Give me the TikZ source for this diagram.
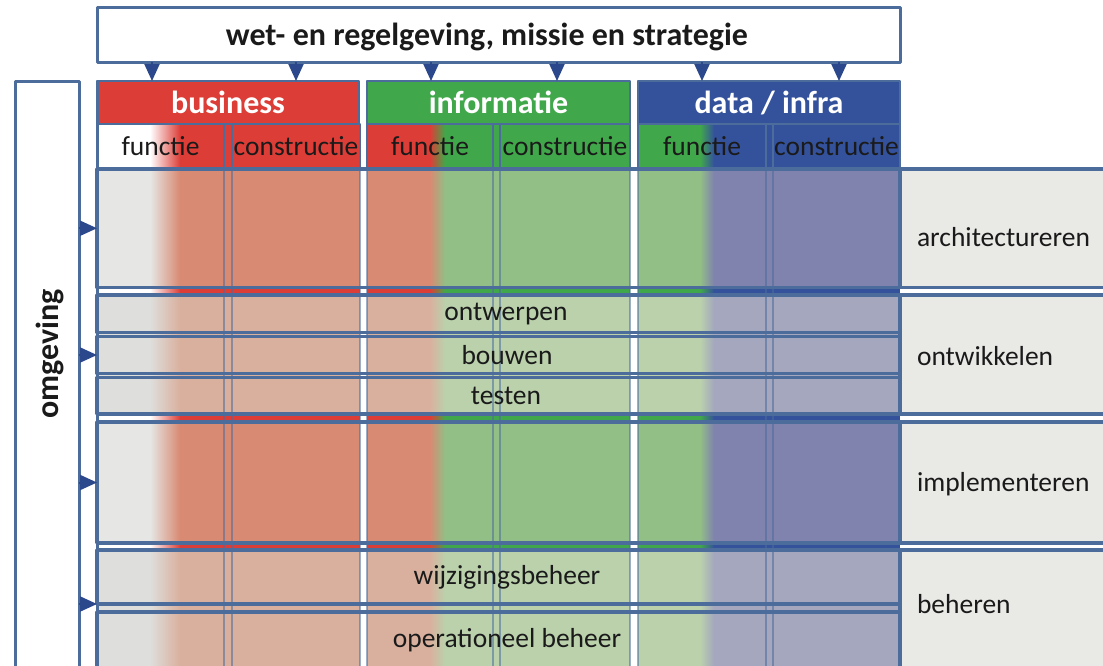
\documentclass[tikz,border=0pt]{standalone}
\usepackage{fontspec}
\setmainfont{Carlito}
\usetikzlibrary{arrows.meta,fit}
\definecolor{lijn}{HTML}{4C6C9C}
\definecolor{pijlblauw}{HTML}{2C488C}
\definecolor{rood}{HTML}{DC3E37}
\definecolor{groen}{HTML}{40A84A}
\definecolor{blauw}{HTML}{34529B}
\definecolor{zalm}{HTML}{D88A72}
\definecolor{zalmlicht}{HTML}{D9B09E}
\definecolor{groenmat}{HTML}{92BF85}
\definecolor{groenlicht}{HTML}{BAD1AC}
\definecolor{blauwmat}{HTML}{7F83AD}
\definecolor{blauwlicht}{HTML}{A4A7BD}
\definecolor{grijs}{HTML}{E6E6E4}
\definecolor{grijslicht}{HTML}{DEDEDC}
\definecolor{grijsrechts}{HTML}{E9E9E6}
\definecolor{tekst}{HTML}{1A1A1A}
\newcommand{\gewoon}{\fontsize{27.5}{30}\selectfont}
\newcommand{\vet}{\fontsize{32}{35}\selectfont\bfseries}
\begin{document}
\begin{tikzpicture}[x=1pt, y=-1pt, line join=round, font=\gewoon, text=tekst]
\tikzset{every node/.style={inner sep=0pt, outer sep=0pt},
  kop/.style={draw=lijn, line width=2.5pt, text=white, font=\vet, minimum height=43pt},
  subkop/.style={draw=lijn, line width=2pt, minimum height=45pt},
  rij/.style={draw=lijn, line width=3.5pt},
  fase/.style={draw=lijn, line width=3.5pt, fill=grijsrechts},
  dun/.style={draw=lijn, line width=1.5pt, opacity=0.55},
  pijl/.style={-{Triangle[length=17pt,width=15pt]}, draw=pijlblauw, line width=2pt}}
\def\vlak#1#2#3#4#5#6#7#8{\path[fill=#7] (#1,#5) rectangle (#2+1,#6); \path[fill=#8] (#3-1,#5) rectangle (#4,#6); \shade[left color=#7, right color=#8] (#2,#5) rectangle (#3,#6);}
\useasboundingbox (0,0) rectangle (1103,665);
\clip (0,0) rectangle (1103,665);
\fill[white] (0,0) rectangle (1103,665);
\node[draw=lijn, line width=3pt, fill=white, minimum width=803pt, minimum height=55pt] (wet) at (498.5,34.5) {};
\node[font=\vet] (tWet) at (487,37) {wet- en regelgeving, missie en strategie};
\node[draw=lijn, line width=3pt, minimum width=64pt, minimum height=620pt] (omgeving) at (47,391) {};
\node[rotate=90, font=\vet] (omgtekst) at (50,354) {omgeving};
\foreach \xl/\xa/\xb/\xr/\ca/\cb in {97/150/180/360/white/rood, 367/430/445/630/rood/groen, 638/700/714/900/groen/blauw} \vlak{\xl}{\xa}{\xb}{\xr}{124}{700}{\ca}{\cb}
\foreach \ya/\yb in {169/287.5, 422/543} \foreach \xl/\xa/\xb/\xr/\ca/\cb in {97/150/180/360/grijs/zalm, 367/430/445/630/zalm/groenmat, 638/700/714/900/groenmat/blauwmat} \vlak{\xl}{\xa}{\xb}{\xr}{\ya}{\yb}{\ca}{\cb}
\foreach \ya/\yb in {295/414, 550/700} \foreach \xl/\xa/\xb/\xr/\ca/\cb in {97/150/180/360/grijslicht/zalmlicht, 367/430/445/630/zalmlicht/groenlicht, 638/700/714/900/groenlicht/blauwlicht} \vlak{\xl}{\xa}{\xb}{\xr}{\ya}{\yb}{\ca}{\cb}
\node[fase, fit={(900,169) (1115,287.5)}] (rArch) {};
\node[fase, fit={(900,295) (1115,414)}] (rOntw) {};
\node[fase, fit={(900,422) (1115,543)}] (rImpl) {};
\node[fase, fit={(900,550) (1115,700)}] (rBeh) {};
\foreach \x in {224,232,360,367,493,500,630,638,766,773} \draw[dun] (\x,169) -- (\x,700);
\node[kop, fill=rood, minimum width=262pt] (business) at (228,102.5) {business};
\node[kop, fill=groen, minimum width=263pt] (informatie) at (498.5,102.5) {informatie};
\node[kop, fill=blauw, minimum width=262pt] (datainfra) at (769,102.5) {data / infra};
\foreach \naam/\x/\w/\t in {bFunctie/160.5/127/functie, bConstructie/296/128/constructie, iFunctie/430/126/functie, iConstructie/565/130/constructie, dFunctie/702/128/functie, dConstructie/836.5/127/constructie} \node[subkop, minimum width=\w pt] (\naam) at (\x,146.5) {\t};
\node[rij, fit={(97,169) (900,287.5)}] (arch) {};
\node[rij, fit={(97,295) (900,332.5)}] (ontwerpen) {};
\node[rij, fit={(97,336.5) (900,373.5)}] (bouwen) {};
\node[rij, fit={(97,377.5) (900,414)}] (testen) {};
\node[rij, fit={(97,422) (900,543)}] (impl) {};
\node[rij, fit={(97,550) (900,604)}] (wijziging) {};
\node[rij, fit={(97,612) (900,700)}] (operationeel) {};
\draw[lijn, line width=3pt] (business.north west) -- (business.north west |- operationeel.south);
\node (tOntwerpen) at (506,314) {ontwerpen};
\node (tBouwen) at (507,355) {bouwen};
\node (tTesten) at (506,396) {testen};
\node (tWijziging) at (507,577) {wijzigingsbeheer};
\node (tOperationeel) at (507,640) {operationeel beheer};
\foreach \naam/\y/\t in {lArch/237/architectureren, lOntw/356/ontwikkelen, lImpl/484/implementeren, lBeh/604/beheren} \node[anchor=west] (\naam) at (917,\y) {\t};
\foreach \x in {152,296} \draw[pijl] (\x,0 |- wet.south) -- (\x,0 |- business.north);
\foreach \x in {431,557} \draw[pijl] (\x,0 |- wet.south) -- (\x,0 |- informatie.north);
\foreach \x in {702,839} \draw[pijl] (\x,0 |- wet.south) -- (\x,0 |- datainfra.north);
\foreach \r in {arch,bouwen,impl} \draw[pijl] (omgeving.east |- \r.west) -- (\r.west);
\draw[pijl] (omgeving.east |- wijziging.south) -- (wijziging.south west);
\end{tikzpicture}
\end{document}
